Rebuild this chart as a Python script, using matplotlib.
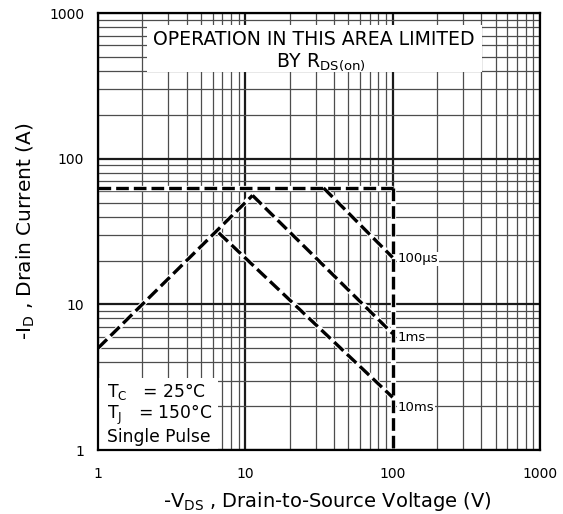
import matplotlib
matplotlib.use("Agg")
import matplotlib.pyplot as plt
from matplotlib.patches import Rectangle
from matplotlib.ticker import LogLocator, NullFormatter

plt.rcParams["font.family"] = ["DejaVu Sans"]
plt.rcParams["mathtext.default"] = "regular"

# safe operating area, -VDS (V) vs -ID (A)
tick_vals = [1, 10, 100, 1000]
tick_labels = ["1", "10", "100", "1000"]

limit_v = [1, 100]          # current limit
limit_i = [63, 63]
vmax_v = [100, 100]         # voltage limit
vmax_i = [63, 1]
rds_v = [1, 11.2]           # RDS(on) limited
rds_i = [5.0, 56]
us100_v = [34, 100]
us100_i = [63, 21]
ms1_v = [11.2, 100]
ms1_i = [56, 6.3]
ms10_v = [6.6, 100]
ms10_i = [31, 2.3]

pulse_names = ["100\u00b5s", "1ms", "10ms"]
pulse_label_i = [20.6, 5.95, 1.97]

fig = plt.figure(figsize=(5.63, 5.14), dpi=100)
ax = fig.add_axes([0.174, 0.1245, 0.785, 0.850])
ax.set_xscale("log")
ax.set_yscale("log")
ax.set_xlim(1, 1000)
ax.set_ylim(1, 1000)

ax.xaxis.set_minor_locator(LogLocator(base=10, subs=range(2, 10)))
ax.yaxis.set_minor_locator(LogLocator(base=10, subs=range(2, 10)))
ax.xaxis.set_minor_formatter(NullFormatter())
ax.yaxis.set_minor_formatter(NullFormatter())
ax.set_xticks(tick_vals, tick_labels)
ax.set_yticks(tick_vals, tick_labels)
ax.tick_params(which="both", length=0)
ax.tick_params(axis="x", pad=12, labelsize=10)
ax.tick_params(axis="y", pad=10, labelsize=10)

ax.grid(which="major", color="0.1", lw=1.6, zorder=0)
ax.grid(which="minor", color="0.3", lw=0.9, zorder=0)
ax.set_axisbelow(True)
for s in ax.spines.values():
    s.set_linewidth(1.6)

# white patches that hide the grid behind the notes
ax.add_patch(Rectangle((0.111, 0.865), 0.758, 0.108, transform=ax.transAxes,
                       facecolor="white", edgecolor="none", zorder=1))
ax.add_patch(Rectangle((0.003, 0.003), 0.268, 0.162, transform=ax.transAxes,
                       facecolor="white", edgecolor="none", zorder=1))

for xs, ys in [(limit_v, limit_i), (vmax_v, vmax_i), (rds_v, rds_i),
               (us100_v, us100_i), (ms1_v, ms1_i), (ms10_v, ms10_i)]:
    ax.plot(xs, ys, color="white", lw=3.8, solid_capstyle="butt", zorder=2)
    ax.plot(xs, ys, color="black", lw=2.4, dashes=(3.8, 1.5), zorder=3)

for name, yi in zip(pulse_names, pulse_label_i):
    ax.annotate(name, (100, yi), xytext=(3.5, 0), textcoords="offset points",
                ha="left", va="center", fontsize=9.5, zorder=4,
                bbox=dict(facecolor="white", edgecolor="none", pad=0.5))

ax.text(0.489, 0.940, "OPERATION IN THIS AREA LIMITED", transform=ax.transAxes,
        ha="center", va="center", fontsize=13.6, zorder=4)
ax.text(0.505, 0.888, r"BY R$_{DS(on)}$", transform=ax.transAxes,
        ha="center", va="center", fontsize=13.6, zorder=4)

ax.text(0.02, 0.133, r"T$_C$   = 25°C", transform=ax.transAxes,
        ha="left", va="center", fontsize=12.3, zorder=4)
ax.text(0.02, 0.080, r"T$_J$   = 150°C", transform=ax.transAxes,
        ha="left", va="center", fontsize=12.3, zorder=4)
ax.text(0.02, 0.030, "Single Pulse", transform=ax.transAxes,
        ha="left", va="center", fontsize=12.3, zorder=4)

ax.set_xlabel(r"-V$_{DS}$ , Drain-to-Source Voltage (V)", fontsize=14)
ax.set_ylabel(r"-I$_D$ , Drain Current (A)", fontsize=14.5)
ax.xaxis.set_label_coords(0.52, -0.092)
ax.yaxis.set_label_coords(-0.139, 0.5)

fig.savefig("out.png", dpi=100)
